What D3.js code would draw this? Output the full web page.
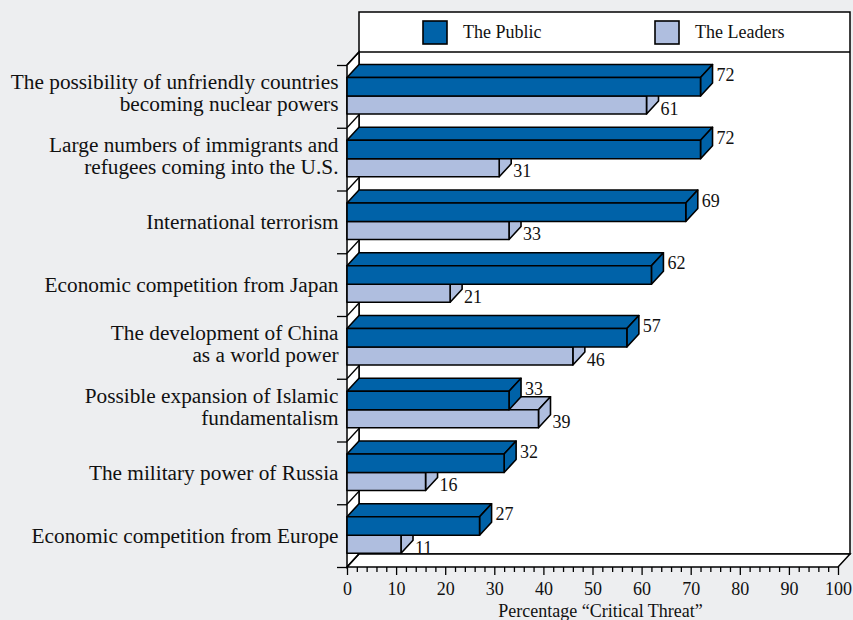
<!DOCTYPE html>
<html>
<head>
<meta charset="utf-8">
<script src="https://cdn.jsdelivr.net/npm/d3@7"></script>
<style>
  html, body { margin: 0; padding: 0; background: #EDEEF0; }
  svg { display: block; }
  text { font-family: "Liberation Serif", "Times New Roman", serif; fill: #111; }
</style>
</head>
<body>
<script>
// ---------------- data ----------------
const categories = [
  "The possibility of unfriendly countries\nbecoming nuclear powers",
  "Large numbers of immigrants and\nrefugees coming into the U.S.",
  "International terrorism",
  "Economic competition from Japan",
  "The development of China\nas a world power",
  "Possible expansion of Islamic\nfundamentalism",
  "The military power of Russia",
  "Economic competition from Europe"
];
const publicValues = [72, 72, 69, 62, 57, 33, 32, 27];
const leaderValues = [61, 31, 33, 21, 46, 39, 16, 11];
const seriesNames = ["The Public", "The Leaders"];
const xTickValues = [0, 10, 20, 30, 40, 50, 60, 70, 80, 90, 100];
const xTitle = "Percentage \u201CCritical Threat\u201D";

// ---------------- layout ----------------
const W = 853, H = 620;
const DX = 12, DY = 13;           // 3-D depth offset
const colors = ["#0062A8", "#AFBEDF"];
const yTop = 65, yBot = 567;

const svg = d3.select("body").append("svg").attr("width", W).attr("height", H);
svg.append("rect").attr("width", W).attr("height", H).attr("fill", "#EDEEF0");

const x = d3.scaleLinear().domain([0, 100]).range([347, 838]);
const y = d3.scaleBand().domain(d3.range(categories.length)).range([yTop, yBot]);
const yb = d3.scaleLinear().domain([0, categories.length]).range([yTop, yBot]);

const x0 = x(0), xMax = x(100);
const line = d3.line();

// back wall + legend box
svg.append("rect")
  .attr("x", x0 + DX).attr("y", 12)
  .attr("width", xMax - x0).attr("height", (yBot - DY) - 12)
  .attr("fill", "#fff").attr("stroke", "#000").attr("stroke-width", 1.5);
svg.append("line")
  .attr("x1", x0 + DX).attr("x2", xMax + DX)
  .attr("y1", yTop - DY).attr("y2", yTop - DY)
  .attr("stroke", "#000").attr("stroke-width", 1.5);

// left wall
svg.append("path")
  .attr("d", line([[x0, yTop], [x0 + DX, yTop - DY], [x0 + DX, yBot - DY], [x0, yBot]]) + "Z")
  .attr("fill", "#fff").attr("stroke", "#000").attr("stroke-width", 1.5);
// floor
svg.append("path")
  .attr("d", line([[x0, yBot], [x0 + DX, yBot - DY], [xMax + DX, yBot - DY], [xMax, yBot]]) + "Z")
  .attr("fill", "#fff").attr("stroke", "#000").attr("stroke-width", 1.5);

// wall diagonals at category boundaries
svg.append("g").selectAll("line")
  .data(d3.range(categories.length + 1))
  .join("line")
  .attr("x1", x0).attr("y1", d => yb(d))
  .attr("x2", x0 + DX).attr("y2", d => yb(d) - DY)
  .attr("stroke", "#000").attr("stroke-width", 1.3);

// left category ticks
const yAxisG = svg.append("g").attr("transform", `translate(${x0},0)`)
  .call(d3.axisLeft(yb).ticks(categories.length).tickSize(10).tickSizeOuter(0).tickFormat(""));
yAxisG.select(".domain").remove();
yAxisG.selectAll("line").attr("stroke", "#000").attr("stroke-width", 1.3);

// ---------------- bars ----------------
function drawBar(g, value, yf0, yf1, color) {
  const x1 = x(value);
  const style = s => s.attr("fill", color).attr("stroke", "#000")
    .attr("stroke-width", 1.6).attr("stroke-linejoin", "round");
  g.append("path")
    .attr("d", line([[x0, yf0], [x0 + DX, yf0 - DY], [x1 + DX, yf0 - DY], [x1, yf0]]) + "Z")
    .call(style);
  g.append("path")
    .attr("d", line([[x1, yf0], [x1 + DX, yf0 - DY], [x1 + DX, yf1 - DY], [x1, yf1]]) + "Z")
    .call(style);
  g.append("rect")
    .attr("x", x0).attr("y", yf0).attr("width", x1 - x0).attr("height", yf1 - yf0)
    .call(style);
}

const barsG = svg.append("g");
categories.forEach((c, i) => {
  const b = y(i);
  const g = barsG.append("g");
  // leaders (lower) first, public drawn on top
  const lTop = b + 31, lBot = b + 49;
  const pTop = b + 12.5, pBot = b + 31;
  drawBar(g, leaderValues[i], lTop, lBot, colors[1]);
  drawBar(g, publicValues[i], pTop, pBot, colors[0]);
  g.append("text")
    .attr("x", x(leaderValues[i]) + DX + 2).attr("y", lBot + 0.5)
    .attr("font-size", 18).text(leaderValues[i]);
  g.append("text")
    .attr("x", x(publicValues[i]) + DX + 4).attr("y", pTop + 3.5)
    .attr("font-size", 18).text(publicValues[i]);
});

// ---------------- category labels ----------------
const labG = svg.append("g");
categories.forEach((c, i) => {
  const lines = c.split("\n");
  const center = y(i) + y.bandwidth() / 2;
  const t = labG.append("text").attr("text-anchor", "end").attr("font-size", 21.3);
  if (lines.length === 1) {
    t.append("tspan").attr("x", 338.5).attr("y", center + 7).text(lines[0]);
  } else {
    t.append("tspan").attr("x", 338.5).attr("y", center - 7.5).text(lines[0]);
    t.append("tspan").attr("x", 338.5).attr("y", center + 14.5).text(lines[1]);
  }
});

// ---------------- x axis ----------------
const minorG = svg.append("g").attr("transform", `translate(0,${yBot})`)
  .call(d3.axisBottom(x).tickValues(d3.range(0, 101, 2).filter(v => v % 10 !== 0))
    .tickSize(5).tickSizeOuter(0).tickFormat(""));
minorG.select(".domain").remove();
minorG.selectAll("line").attr("stroke", "#000").attr("stroke-width", 1.3);

const majorG = svg.append("g").attr("transform", `translate(0,${yBot})`)
  .call(d3.axisBottom(x).tickValues(xTickValues).tickSize(8).tickPadding(7).tickSizeOuter(0));
majorG.select(".domain").remove();
majorG.selectAll("line").attr("stroke", "#000").attr("stroke-width", 1.3);
majorG.selectAll("text")
  .attr("font-size", 18)
  .attr("font-family", '"Liberation Serif", "Times New Roman", serif')
  .attr("fill", "#111");

svg.append("text")
  .attr("x", (x0 + xMax) / 2 + 8).attr("y", 617)
  .attr("text-anchor", "middle").attr("font-size", 18)
  .text(xTitle);

// ---------------- legend ----------------
const legendX = [423, 655];
const legG = svg.append("g");
seriesNames.forEach((s, i) => {
  legG.append("rect")
    .attr("x", legendX[i]).attr("y", 21).attr("width", 24).attr("height", 23)
    .attr("fill", colors[i]).attr("stroke", "#000").attr("stroke-width", 1.6);
  legG.append("text")
    .attr("x", legendX[i] + 40).attr("y", 38)
    .attr("font-size", 18).text(s);
});
</script>
</body>
</html>
